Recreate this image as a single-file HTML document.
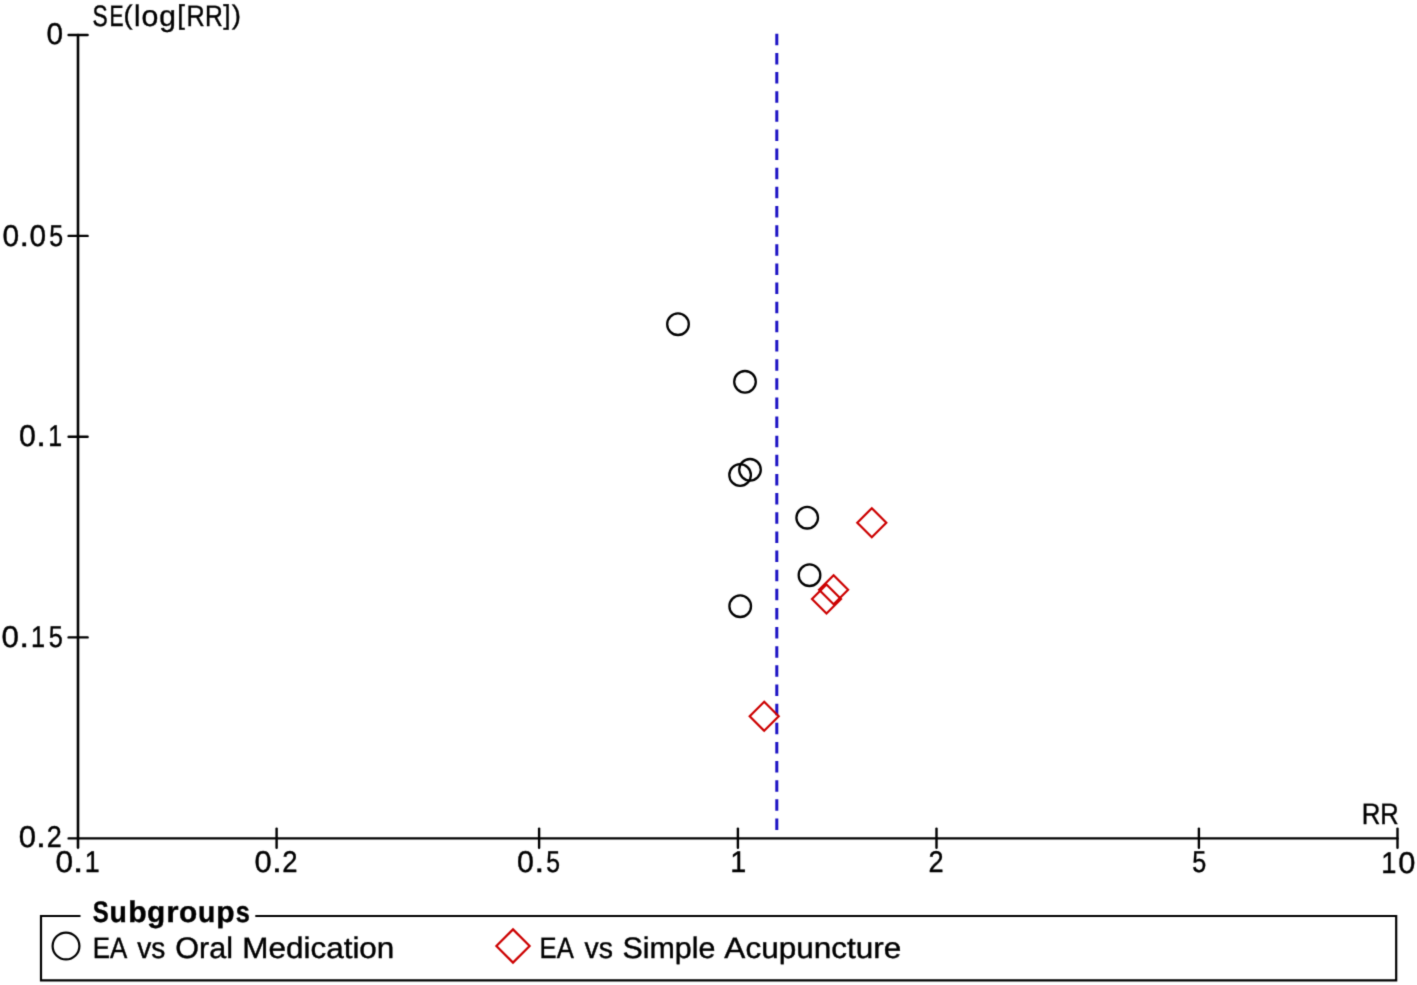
<!DOCTYPE html>
<html><head><meta charset="utf-8">
<style>
html,body{margin:0;padding:0;background:#fff;width:1417px;height:985px;overflow:hidden}
svg{display:block}
#wrap{width:1417px;height:985px}
text{font-family:"Liberation Sans",sans-serif;fill:#000;stroke:#000;stroke-width:0.4px;text-rendering:geometricPrecision}
</style></head>
<body>
<div id="wrap">
<svg width="1417" height="985" viewBox="0 0 1417 985">
<defs><filter id="bl" color-interpolation-filters="sRGB" x="0" y="0" width="1417" height="985" filterUnits="userSpaceOnUse"><feConvolveMatrix order="3" kernelMatrix="0.01917 0.10012 0.01917 0.10012 0.52283 0.10012 0.01917 0.10012 0.01917" divisor="1" edgeMode="duplicate" preserveAlpha="true"/></filter></defs>
<g filter="url(#bl)">
<rect width="1417" height="985" fill="#fff"/>
<g stroke="#000" stroke-width="2.4" fill="none" stroke-linecap="round">
<line x1="78" y1="35" x2="78" y2="847.6" stroke-width="2.6" stroke="#000"/>
<line x1="68.6" y1="838.4" x2="1397.5" y2="838.4"/>
<line x1="68.6" y1="35" x2="87.6" y2="35"/>
<line x1="68.6" y1="235.9" x2="87.6" y2="235.9"/>
<line x1="68.6" y1="436.7" x2="87.6" y2="436.7"/>
<line x1="68.6" y1="637.4" x2="87.6" y2="637.4"/>
<line x1="276.6" y1="828.6" x2="276.6" y2="847.7"/>
<line x1="539.1" y1="828.6" x2="539.1" y2="847.7"/>
<line x1="737.9" y1="828.6" x2="737.9" y2="847.7"/>
<line x1="936.5" y1="828.6" x2="936.5" y2="847.7"/>
<line x1="1198.9" y1="828.6" x2="1198.9" y2="847.7"/>
<line x1="1397.5" y1="828.6" x2="1397.5" y2="847.7"/>
</g>
<line x1="776.8" y1="33.75" x2="776.8" y2="830" stroke="#1c12c4" stroke-width="3" stroke-dasharray="11.5 7.64"/>
<g stroke="#000" stroke-width="2.3" fill="none">
<circle cx="678" cy="324.2" r="10.8"/>
<circle cx="745" cy="381.8" r="10.8"/>
<circle cx="740.1" cy="475" r="10.8"/>
<circle cx="750" cy="469.8" r="10.8"/>
<circle cx="807.2" cy="517.7" r="10.8"/>
<circle cx="809.5" cy="575.2" r="10.8"/>
<circle cx="740.2" cy="606.2" r="10.8"/>
</g>
<g stroke="#cc0000" stroke-width="2.2" fill="none">
<path d="M871.8 508.2 L886.3 522.7 L871.8 537.2 L857.3 522.7 Z"/>
<path d="M833.6 575.2 L848.1 589.7 L833.6 604.2 L819.1 589.7 Z"/>
<path d="M826.5 584.5 L841 599 L826.5 613.5 L812 599 Z"/>
<path d="M764.2 701.8 L778.7 716.3 L764.2 730.8 L749.7 716.3 Z"/>
</g>
<path d="M80.5 916 L41 916 L41 980.3 L1396.2 980.3 L1396.2 916 L255.3 916" stroke="#000" stroke-width="2.2" fill="none"/>
<circle cx="66" cy="946" r="13.4" stroke="#000" stroke-width="2.2" fill="none"/>
<path d="M513 929.4 L529.6 946 L513 962.6 L496.4 946 Z" stroke="#cc0000" stroke-width="2.2" fill="none"/>

<g style="will-change:transform">
<text id="y0_0" x="46.51" y="44.33" font-size="30.0" textLength="16.55" lengthAdjust="spacingAndGlyphs">0</text>
<text id="y005_0" x="2.39" y="245.61" font-size="30.0" textLength="16.63" lengthAdjust="spacingAndGlyphs">0</text>
<text id="y005_1" x="19.42" y="245.61" font-size="30.0" textLength="9.55" lengthAdjust="spacingAndGlyphs">.</text>
<text id="y005_2" x="29.47" y="245.61" font-size="30.0" textLength="16.56" lengthAdjust="spacingAndGlyphs">0</text>
<text id="y005_3" x="49.21" y="245.61" font-size="30.0" textLength="13.88" lengthAdjust="spacingAndGlyphs">5</text>
<text id="y01_0" x="19.05" y="446.36" font-size="30.0" textLength="16.87" lengthAdjust="spacingAndGlyphs">0</text>
<text id="y01_1" x="36.20" y="446.36" font-size="30.0" textLength="9.73" lengthAdjust="spacingAndGlyphs">.</text>
<text id="y01_2" x="48.13" y="446.36" font-size="30.0" textLength="13.87" lengthAdjust="spacingAndGlyphs">1</text>
<text id="y015_0" x="1.53" y="646.96" font-size="30.0" textLength="17.43" lengthAdjust="spacingAndGlyphs">0</text>
<text id="y015_1" x="19.22" y="646.96" font-size="30.0" textLength="9.94" lengthAdjust="spacingAndGlyphs">.</text>
<text id="y015_2" x="30.95" y="646.96" font-size="30.0" textLength="14.06" lengthAdjust="spacingAndGlyphs">1</text>
<text id="y015_3" x="48.85" y="646.96" font-size="30.0" textLength="14.09" lengthAdjust="spacingAndGlyphs">5</text>
<text id="y02_0" x="18.82" y="847.41" font-size="30.0" textLength="17.28" lengthAdjust="spacingAndGlyphs">0</text>
<text id="y02_1" x="35.94" y="847.41" font-size="30.0" textLength="9.94" lengthAdjust="spacingAndGlyphs">.</text>
<text id="y02_2" x="46.82" y="847.41" font-size="30.0" textLength="15.03" lengthAdjust="spacingAndGlyphs">2</text>
<text id="x01_0" x="55.49" y="872.09" font-size="30.0" textLength="17.62" lengthAdjust="spacingAndGlyphs">0</text>
<text id="x01_1" x="72.88" y="872.09" font-size="30.0" textLength="10.73" lengthAdjust="spacingAndGlyphs">.</text>
<text id="x01_2" x="84.70" y="872.09" font-size="30.0" textLength="14.96" lengthAdjust="spacingAndGlyphs">1</text>
<text id="x02_0" x="254.58" y="872.27" font-size="30.0" textLength="17.17" lengthAdjust="spacingAndGlyphs">0</text>
<text id="x02_1" x="271.99" y="872.27" font-size="30.0" textLength="9.92" lengthAdjust="spacingAndGlyphs">.</text>
<text id="x02_2" x="282.36" y="872.27" font-size="30.0" textLength="15.27" lengthAdjust="spacingAndGlyphs">2</text>
<text id="x05_0" x="517.04" y="872.12" font-size="30.0" textLength="16.90" lengthAdjust="spacingAndGlyphs">0</text>
<text id="x05_1" x="534.26" y="872.12" font-size="30.0" textLength="10.14" lengthAdjust="spacingAndGlyphs">.</text>
<text id="x05_2" x="546.25" y="872.12" font-size="30.0" textLength="13.77" lengthAdjust="spacingAndGlyphs">5</text>
<text id="x1_0" x="730.28" y="872.20" font-size="30.0" textLength="16.01" lengthAdjust="spacingAndGlyphs">1</text>
<text id="x2_0" x="928.51" y="872.20" font-size="30.0" textLength="15.13" lengthAdjust="spacingAndGlyphs">2</text>
<text id="x5_0" x="1192.20" y="872.20" font-size="30.0" textLength="14.02" lengthAdjust="spacingAndGlyphs">5</text>
<text id="x10_0" x="1381.37" y="872.59" font-size="30.0" textLength="15.18" lengthAdjust="spacingAndGlyphs">1</text>
<text id="x10_1" x="1398.30" y="872.59" font-size="30.0" textLength="17.14" lengthAdjust="spacingAndGlyphs">0</text>
<text id="RR0" x="1361.84" y="824.00" font-size="29.6" textLength="18.64" lengthAdjust="spacingAndGlyphs">R</text>
<text id="RR1" x="1380.15" y="824.00" font-size="29.6" textLength="18.42" lengthAdjust="spacingAndGlyphs">R</text>
<text id="ylab0" x="92.42" y="25.90" font-size="29.6" textLength="15.19" lengthAdjust="spacingAndGlyphs">S</text>
<text id="ylab1" x="109.42" y="25.90" font-size="29.6" textLength="14.07" lengthAdjust="spacingAndGlyphs">E</text>
<text id="ylab2" x="123.41" y="0" transform="translate(0 24.0) scale(1 0.914)" font-size="29.6" textLength="9.09" lengthAdjust="spacingAndGlyphs">(</text>
<text id="ylab3" x="133.91" y="25.90" font-size="29.6" textLength="6.41" lengthAdjust="spacingAndGlyphs">l</text>
<text id="ylab4" x="141.41" y="25.90" font-size="29.6" textLength="16.84" lengthAdjust="spacingAndGlyphs">o</text>
<text id="ylab5" x="159.39" y="25.90" font-size="29.6" textLength="16.68" lengthAdjust="spacingAndGlyphs">g</text>
<text id="ylab6" x="177.37" y="0" transform="translate(0 24.3) scale(1 0.921)" font-size="29.6" textLength="7.62" lengthAdjust="spacingAndGlyphs">[</text>
<text id="ylab7" x="186.56" y="25.90" font-size="29.6" textLength="18.24" lengthAdjust="spacingAndGlyphs">R</text>
<text id="ylab8" x="205.07" y="25.90" font-size="29.6" textLength="17.81" lengthAdjust="spacingAndGlyphs">R</text>
<text id="ylab9" x="223.26" y="0" transform="translate(0 24.3) scale(1 0.921)" font-size="29.6" textLength="7.26" lengthAdjust="spacingAndGlyphs">]</text>
<text id="ylab10" x="231.75" y="0" transform="translate(0 24.0) scale(1 0.914)" font-size="29.6" textLength="9.19" lengthAdjust="spacingAndGlyphs">)</text>
<text id="sub0" x="92.68" y="922.20" font-size="29.6" font-weight="bold" textLength="15.95" lengthAdjust="spacingAndGlyphs">S</text>
<text id="sub1" x="109.56" y="922.20" font-size="29.6" font-weight="bold" textLength="17.34" lengthAdjust="spacingAndGlyphs">u</text>
<text id="sub2" x="128.15" y="922.20" font-size="29.6" font-weight="bold" textLength="18.43" lengthAdjust="spacingAndGlyphs">b</text>
<text id="sub3" x="147.00" y="922.20" font-size="29.6" font-weight="bold" textLength="18.20" lengthAdjust="spacingAndGlyphs">g</text>
<text id="sub4" x="166.17" y="922.20" font-size="29.6" font-weight="bold" textLength="12.32" lengthAdjust="spacingAndGlyphs">r</text>
<text id="sub5" x="178.92" y="922.20" font-size="29.6" font-weight="bold" textLength="18.22" lengthAdjust="spacingAndGlyphs">o</text>
<text id="sub6" x="198.04" y="922.20" font-size="29.6" font-weight="bold" textLength="17.26" lengthAdjust="spacingAndGlyphs">u</text>
<text id="sub7" x="216.39" y="922.20" font-size="29.6" font-weight="bold" textLength="18.35" lengthAdjust="spacingAndGlyphs">p</text>
<text id="sub8" x="235.85" y="922.20" font-size="29.6" font-weight="bold" textLength="14.09" lengthAdjust="spacingAndGlyphs">s</text>
<text id="l1w0" x="92.74" y="957.80" font-size="29.6" textLength="34.52" lengthAdjust="spacingAndGlyphs">EA</text>
<text id="l1w1" x="137.31" y="957.80" font-size="29.6" textLength="28.03" lengthAdjust="spacingAndGlyphs">vs</text>
<text id="l1w2" x="175.21" y="957.80" font-size="29.6" textLength="57.75" lengthAdjust="spacingAndGlyphs">Oral</text>
<text id="l1w3" x="242.32" y="957.80" font-size="29.6" textLength="152.03" lengthAdjust="spacingAndGlyphs">Medication</text>
<text id="l2w0" x="539.59" y="957.80" font-size="29.6" textLength="34.18" lengthAdjust="spacingAndGlyphs">EA</text>
<text id="l2w1" x="584.53" y="957.80" font-size="29.6" textLength="28.37" lengthAdjust="spacingAndGlyphs">vs</text>
<text id="l2w2" x="622.47" y="957.80" font-size="29.6" textLength="92.93" lengthAdjust="spacingAndGlyphs">Simple</text>
<text id="l2w3" x="724.37" y="957.80" font-size="29.6" textLength="177.03" lengthAdjust="spacingAndGlyphs">Acupuncture</text>
</g>
</g></svg>
</div>
</body></html>
